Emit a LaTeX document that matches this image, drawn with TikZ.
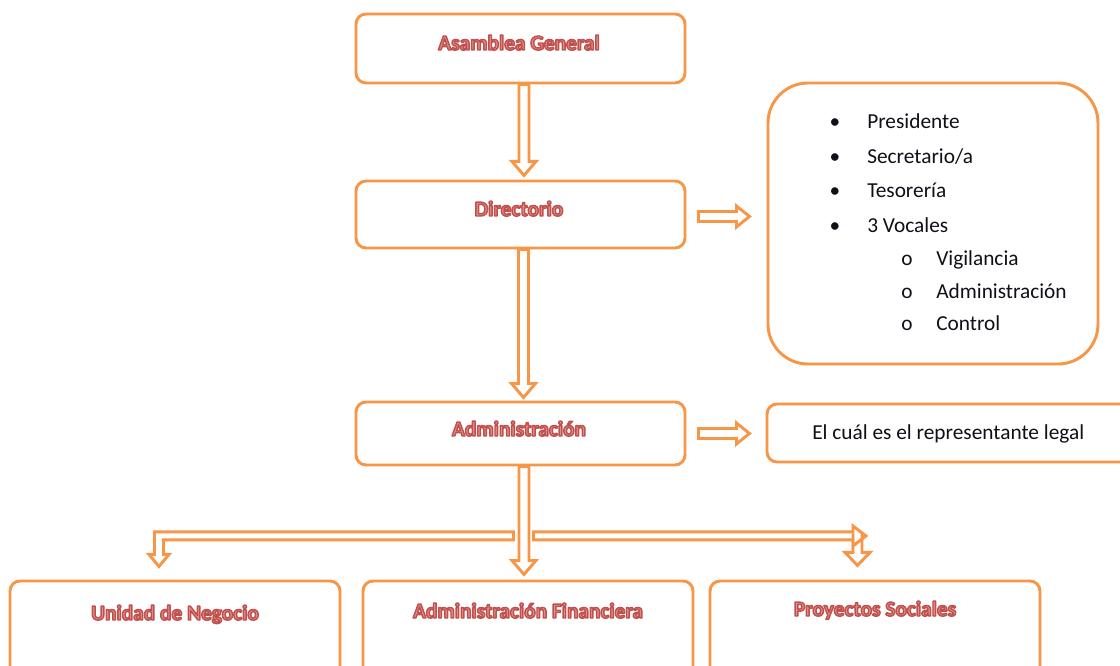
\documentclass[tikz,border=0pt]{standalone}
\usepackage{fontspec}
\setmainfont{Carlito}
\usetikzlibrary{fit}
\definecolor{org}{HTML}{F79646}
\definecolor{rdk}{HTML}{C0504D}
\definecolor{rlt}{HTML}{E38F8B}
\definecolor{txt}{HTML}{101018}
\newcommand\ttl[1]{{\color{rlt}\special{pdf:literal direct 0.753 0.314 0.302 RG 1.1 w 1 j 2 Tr}#1\special{pdf:literal direct 0 Tr}}}
\begin{document}
\begin{tikzpicture}[x=0.75pt,y=-0.75pt,
 box/.style={draw=org, line width=2.2pt, rounded corners=7.5pt, inner sep=0pt},
 bigbox/.style={box, rounded corners=30pt},
 harrow/.style={draw=org, line width=2.2pt, line join=miter},
 ttlnode/.style={anchor=base, inner sep=0pt, font=\bfseries\fontsize{16}{19}\selectfont},
 itm/.style={anchor=base west, inner sep=0pt, text=txt, font=\fontsize{16}{19}\selectfont},
 blt/.style={anchor=base, inner sep=0pt, text=txt, font=\fontsize{16}{19}\selectfont}]
\useasboundingbox (0,0) rectangle (1120,666);
\clip (0,0) rectangle (1120,666);
\fill[white] (0,0) rectangle (1120,666);

% boxes
\node[box, fit={(356,14) (685,83)}] (ag) {};
\node[box, fit={(356,181) (685,248)}] (dir) {};
\node[box, fit={(356,402) (685,465)}] (adm) {};
\node[bigbox, fit={(768,83) (1098,364)}] (lst) {};
\node[box, fit={(767,404) (1135,462)}] (rep) {};
\node[box, fit={(10,581) (340,690)}] (un) {};
\node[box, fit={(363,581) (693,690)}] (af) {};
\node[box, fit={(710,581) (1040,690)}] (ps) {};

% titles
\node[ttlnode] (agT) at (519,50) {\ttl{Asamblea General}};
\node[ttlnode] (dirT) at (519,216) {\ttl{Directorio}};
\node[ttlnode] (admT) at (519,436) {\ttl{Administración}};
\node[ttlnode] (unT) at (175,620) {\ttl{Unidad de Negocio}};
\node[ttlnode] (afT) at (528,618) {\ttl{Administración Financiera}};
\node[ttlnode] (psT) at (875,616) {\ttl{Proyectos Sociales}};

% list
\node[blt] (b1) at (835,129) {•};
\node[itm] (i1) at (867,129) {Presidente};
\node[blt] (b2) at (835,164) {•};
\node[itm] (i2) at (867,164) {Secretario/a};
\node[blt] (b3) at (835,198) {•};
\node[itm] (i3) at (867,198) {Tesorería};
\node[blt] (b4) at (835,233) {•};
\node[itm] (i4) at (867,233) {3 Vocales};
\node[blt] (s1) at (907,266) {o};
\node[itm] (j1) at (936,266) {Vigilancia};
\node[blt] (s2) at (907,299) {o};
\node[itm] (j2) at (936,299) {Administración};
\node[blt] (s3) at (907,330) {o};
\node[itm] (j3) at (936,330) {Control};

\node[itm] (repT) at (812,439) {El cuál es el representante legal};

% connectors (hollow block arrows)
\coordinate (a1) at ([xshift=2.6pt]ag.south);
\draw[harrow] (a1) ++(-5,0) -- ++(0,77) -- ++(-7,0) -- ++(12,14) -- ++(12,-14) -- ++(-7,0) -- ++(0,-77) -- cycle;

\coordinate (a2) at ([xshift=2.25pt]dir.south);
\draw[harrow] (a2) ++(-5,0) -- ++(0,134) -- ++(-7,0) -- ++(12,14) -- ++(12,-14) -- ++(-7,0) -- ++(0,-134) -- cycle;

\coordinate (a3) at ([xshift=2.6pt]adm.south);
\draw[harrow] (a3) ++(-5,0) -- ++(0,94) -- ++(-7,0) -- ++(12,14) -- ++(12,-14) -- ++(-7,0) -- ++(0,-94) -- cycle;

\coordinate (r1) at ([xshift=9pt,yshift=-1.5pt]dir.east);
\draw[harrow] (r1) ++(0,-5) -- ++(38,0) -- ++(0,-5.5) -- ++(13,10.5) -- ++(-13,10.5) -- ++(0,-5.5) -- ++(-38,0) -- cycle;

\coordinate (r2) at ([xshift=9pt]adm.east);
\draw[harrow] (r2) ++(0,-5) -- ++(38,0) -- ++(0,-5.5) -- ++(13,10.5) -- ++(-13,10.5) -- ++(0,-5.5) -- ++(-38,0) -- cycle;

% branches to the bottom row
\coordinate (j) at ([xshift=2.6pt,yshift=-52.1pt]adm.south);
\draw[harrow] (j) ++(-10.5,-4) -- ++(-359,0) -- ++(0,22.5) -- ++(-5.5,0) -- ++(10,12) -- ++(10,-12) -- ++(-5.5,0) -- ++(0,-14.5) -- ++(350,0) -- cycle;
\draw[harrow] (j) ++(9.5,-4) -- ++(319.5,0) -- ++(0,-6) -- ++(13,10) -- ++(-13,10) -- ++(0,-6) -- ++(-319.5,0) -- cycle;
\draw[harrow] (j) ++(329,-2.5) -- ++(0,19) -- ++(-8,0) -- ++(12.5,13) -- ++(12.5,-13) -- ++(-8,0) -- ++(0,-19);
\end{tikzpicture}
\end{document}
